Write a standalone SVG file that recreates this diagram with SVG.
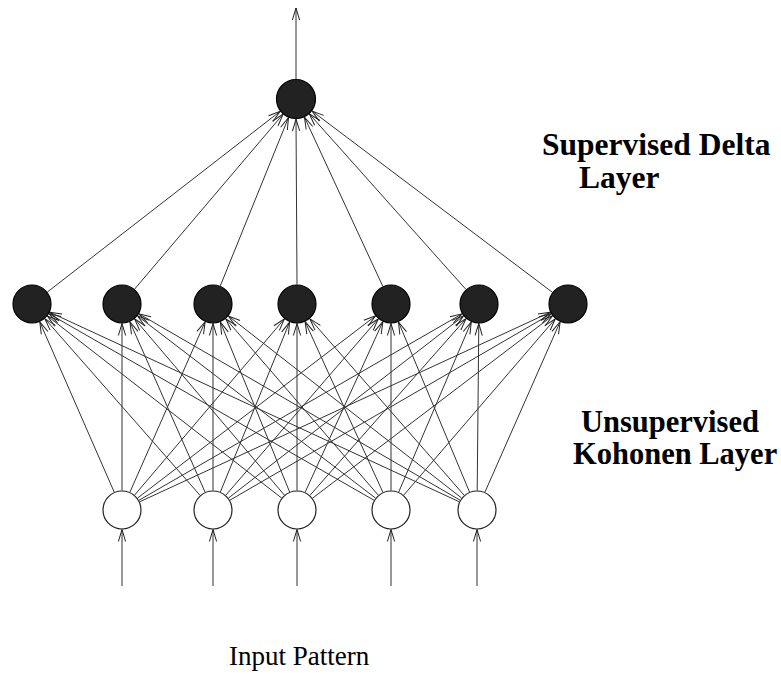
<svg xmlns="http://www.w3.org/2000/svg" width="781" height="674" viewBox="0 0 781 674">
  <defs>
    <marker id="arrow" viewBox="-13 -5 14 10" markerWidth="14" markerHeight="10" refX="0" refY="0" orient="auto" markerUnits="userSpaceOnUse">
      <path d="M-12,-3.6 L0,0 L-12,3.6" fill="none" stroke="#222" stroke-width="1"/>
    </marker>
  </defs>
  <style>
    .conn line { stroke: #333; stroke-width: 1; marker-end: url(#arrow); }
    .dark { fill: #222; stroke: #000; stroke-width: 1.2; }
    .open { fill: #fff; stroke: #222; stroke-width: 1.2; }
    .label { font-family: "Liberation Serif", "Times New Roman", serif; font-weight: bold; font-size: 31.5px; fill: #000; }
    .label.small { font-size: 30.5px; }
    .plain { font-family: "Liberation Serif", "Times New Roman", serif; font-size: 27px; fill: #000; }
  </style>
  <rect width="781" height="674" fill="#fff"/>

  <g id="connectors" class="conn">
    <!-- output -->
    <line x1="296" y1="79" x2="296" y2="8"/>
    <!-- hidden to output -->
    <line x1="47.4" y1="292.0" x2="280.2" y2="111.3"/>
    <line x1="134.6" y1="289.1" x2="283.1" y2="114.2"/>
    <line x1="220.3" y1="285.9" x2="288.5" y2="117.5"/>
    <line x1="297" y1="284.5" x2="296" y2="119"/>
    <line x1="382.8" y1="286.3" x2="304.4" y2="117.1"/>
    <line x1="466.0" y1="289.5" x2="309.3" y2="113.9"/>
    <line x1="552.4" y1="292.3" x2="312.0" y2="111.0"/>
    <!-- input 1 -->
    <line x1="114.2" y1="492.1" x2="39.8" y2="321.9"/>
    <line x1="122" y1="490.5" x2="122" y2="323.5"/>
    <line x1="129.9" y1="492.2" x2="205.1" y2="321.8"/>
    <line x1="134.6" y1="495.1" x2="284.4" y2="318.9"/>
    <line x1="137.5" y1="498.1" x2="375.5" y2="315.9"/>
    <line x1="138.9" y1="500.3" x2="462.1" y2="313.8"/>
    <line x1="139.7" y1="501.8" x2="550.3" y2="312.2"/>
    <!-- input 2 -->
    <line x1="200.1" y1="495.4" x2="44.9" y2="318.7"/>
    <line x1="205.1" y1="492.2" x2="129.9" y2="321.8"/>
    <line x1="213" y1="490.5" x2="213" y2="323.5"/>
    <line x1="220.4" y1="491.9" x2="289.6" y2="322.1"/>
    <line x1="225.8" y1="495.2" x2="378.3" y2="318.8"/>
    <line x1="228.4" y1="498.1" x2="463.6" y2="315.9"/>
    <line x1="229.9" y1="500.2" x2="551.1" y2="313.8"/>
    <!-- input 3 -->
    <line x1="281.6" y1="498.0" x2="47.4" y2="316.0"/>
    <line x1="284.4" y1="495.1" x2="134.6" y2="318.9"/>
    <line x1="289.6" y1="491.9" x2="220.4" y2="322.1"/>
    <line x1="297" y1="490.5" x2="297" y2="323.5"/>
    <line x1="305.1" y1="492.3" x2="382.9" y2="321.7"/>
    <line x1="309.9" y1="495.4" x2="466.1" y2="318.6"/>
    <line x1="312.5" y1="498.2" x2="552.5" y2="315.8"/>
    <!-- input 4 -->
    <line x1="374.1" y1="500.3" x2="48.9" y2="313.7"/>
    <line x1="375.5" y1="498.1" x2="137.5" y2="315.9"/>
    <line x1="378.3" y1="495.2" x2="225.8" y2="318.8"/>
    <line x1="382.9" y1="492.3" x2="305.1" y2="321.7"/>
    <line x1="391" y1="490.5" x2="391" y2="323.5"/>
    <line x1="398.7" y1="492.1" x2="471.3" y2="321.9"/>
    <line x1="403.7" y1="495.2" x2="555.3" y2="318.8"/>
    <!-- input 5 -->
    <line x1="459.3" y1="501.8" x2="49.7" y2="312.2"/>
    <line x1="460.1" y1="500.2" x2="138.9" y2="313.8"/>
    <line x1="461.6" y1="498.0" x2="228.4" y2="316.0"/>
    <line x1="464.2" y1="495.3" x2="309.8" y2="318.7"/>
    <line x1="469.5" y1="492.0" x2="398.5" y2="322.0"/>
    <line x1="477.2" y1="490.5" x2="478.8" y2="323.5"/>
    <line x1="484.9" y1="492.2" x2="560.1" y2="321.8"/>
    <!-- external inputs -->
    <line x1="122" y1="586" x2="122" y2="529.5"/>
    <line x1="213" y1="586" x2="213" y2="529.5"/>
    <line x1="297" y1="586" x2="297" y2="529.5"/>
    <line x1="391" y1="586" x2="391" y2="529.5"/>
    <line x1="477" y1="586" x2="477" y2="529.5"/>
  </g>

  <g id="output-node"><circle class="dark" cx="296" cy="99" r="19.5"/></g>

  <g id="kohonen-1"><circle class="dark" cx="32" cy="304" r="19"/></g>
  <g id="kohonen-2"><circle class="dark" cx="122" cy="304" r="19"/></g>
  <g id="kohonen-3"><circle class="dark" cx="213" cy="304" r="19"/></g>
  <g id="kohonen-4"><circle class="dark" cx="297" cy="304" r="19"/></g>
  <g id="kohonen-5"><circle class="dark" cx="391" cy="304" r="19"/></g>
  <g id="kohonen-6"><circle class="dark" cx="479" cy="304" r="19"/></g>
  <g id="kohonen-7"><circle class="dark" cx="568" cy="304" r="19"/></g>

  <g id="input-1"><circle class="open" cx="122" cy="510" r="19"/></g>
  <g id="input-2"><circle class="open" cx="213" cy="510" r="19"/></g>
  <g id="input-3"><circle class="open" cx="297" cy="510" r="19"/></g>
  <g id="input-4"><circle class="open" cx="391" cy="510" r="19"/></g>
  <g id="input-5"><circle class="open" cx="477" cy="510" r="19"/></g>

  <g id="labels">
    <text class="label" x="542" y="155">Supervised Delta</text>
    <text class="label" x="579" y="188">Layer</text>
    <text class="label small" x="581" y="432">Unsupervised</text>
    <text class="label small" x="573" y="464">Kohonen Layer</text>
    <text class="plain" x="229" y="665">Input Pattern</text>
  </g>
</svg>
